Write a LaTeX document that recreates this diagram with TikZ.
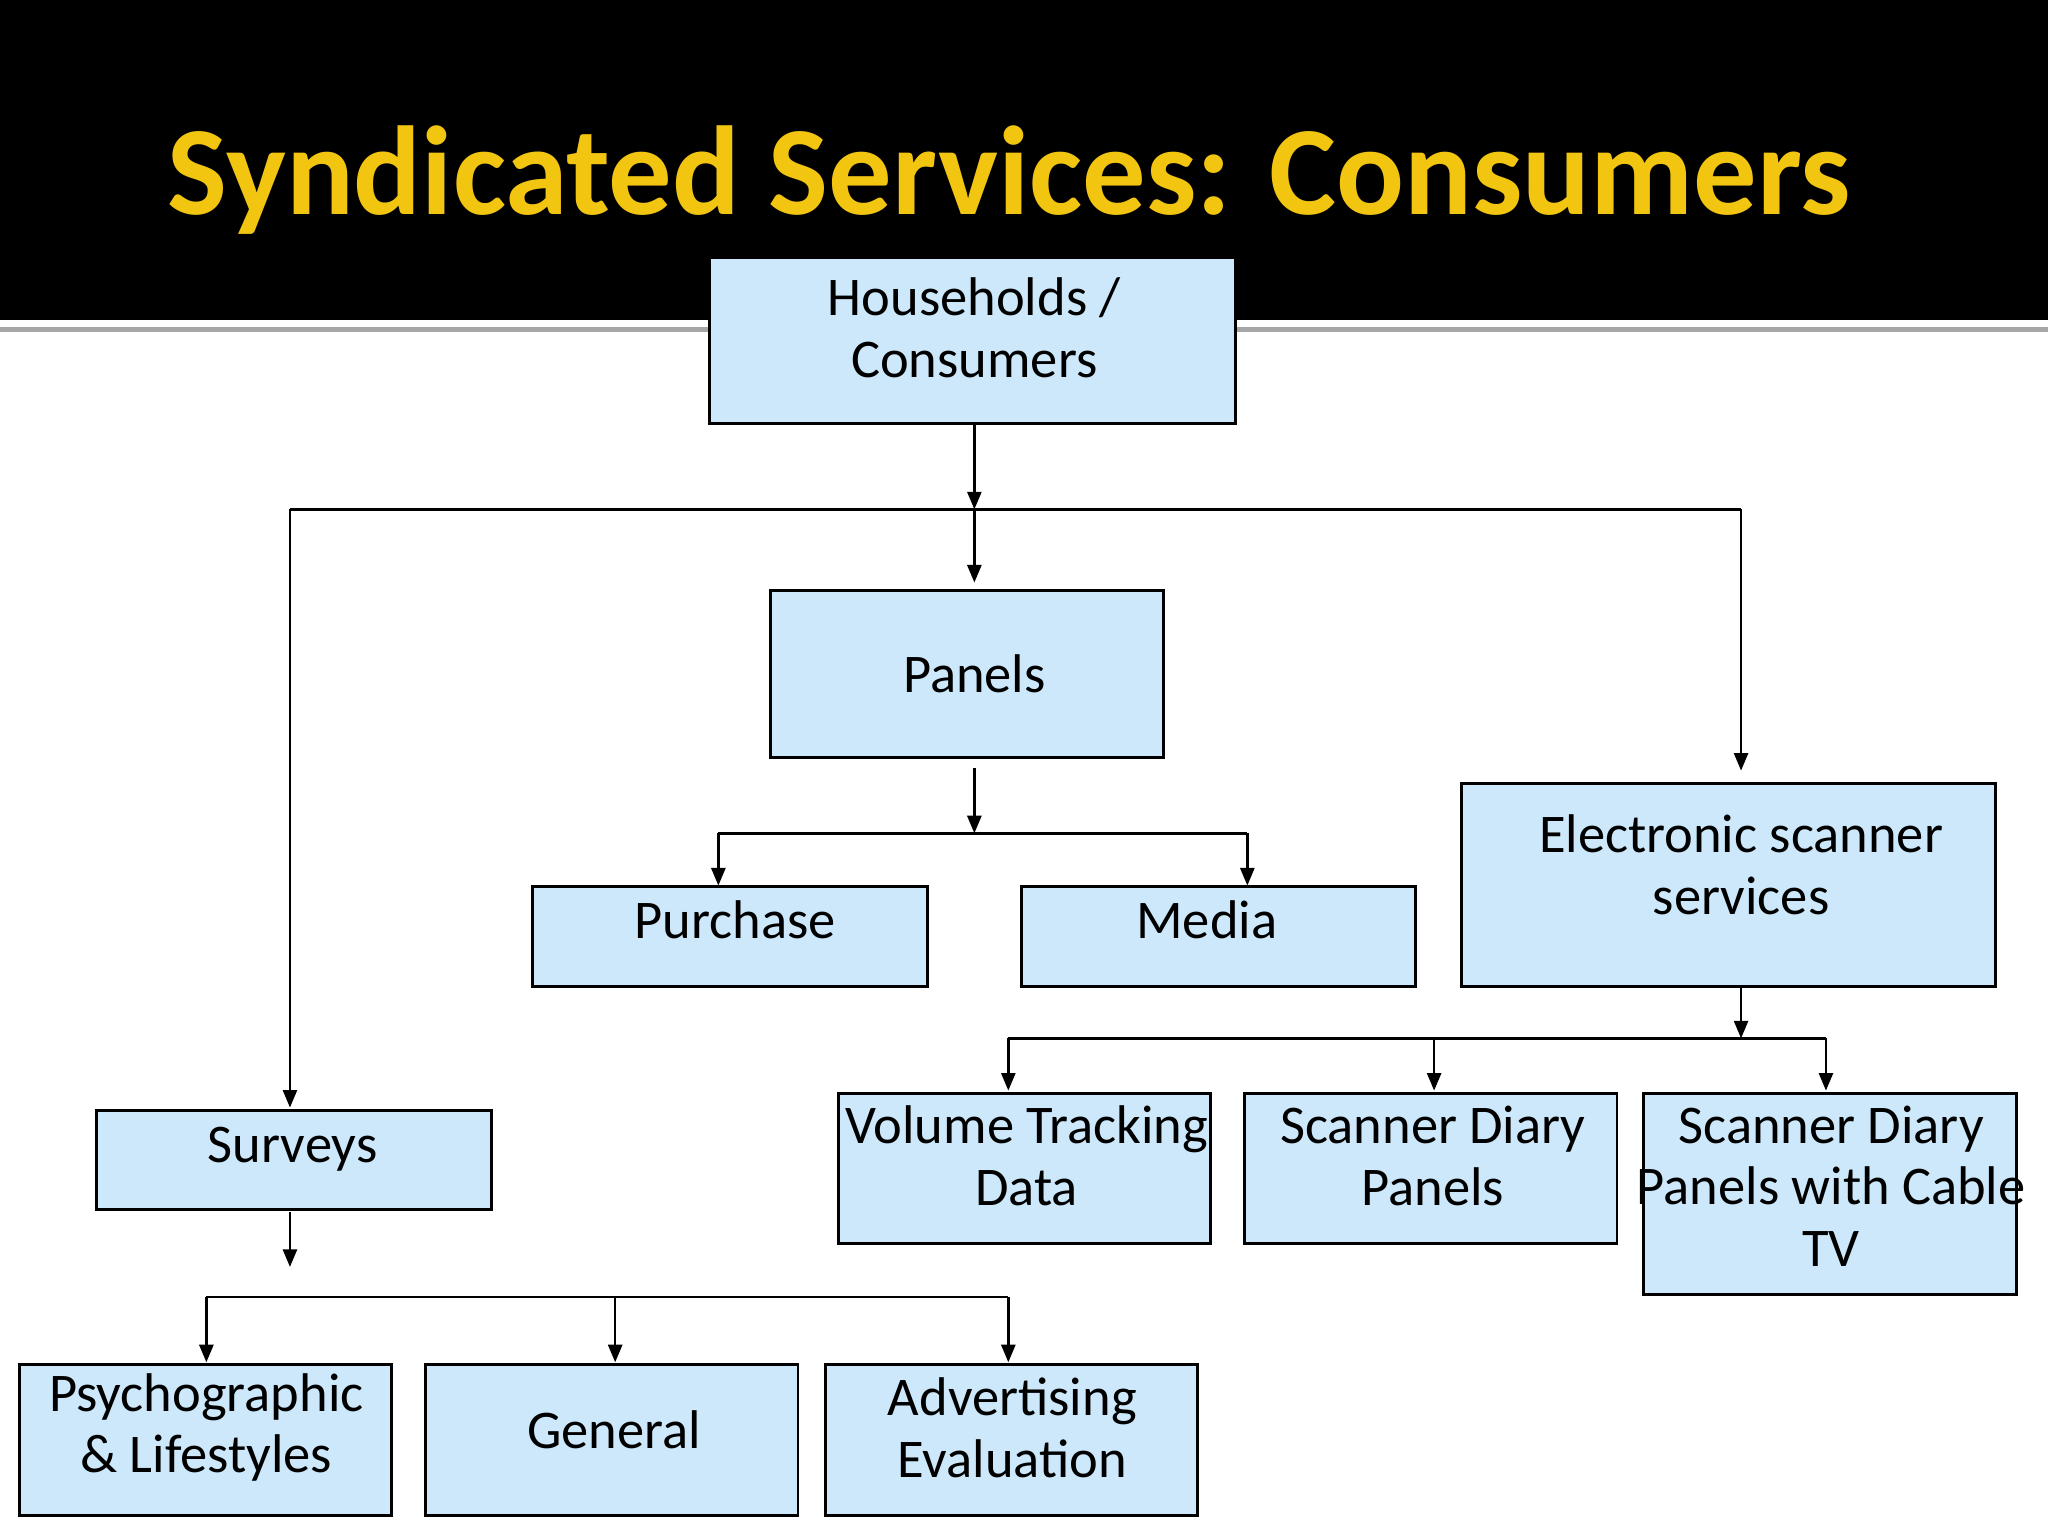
\documentclass[tikz,border=0pt]{standalone}
\usepackage{fontspec}
\setmainfont{Carlito}
\usetikzlibrary{arrows.meta}
\definecolor{boxfill}{HTML}{CCE8FA}
\definecolor{titley}{HTML}{F2C511}
\begin{document}
\begin{tikzpicture}[x=0.013061cm,y=-0.013061cm,
  box/.style={draw=black,line width=0.8pt,fill=boxfill},
  lbl/.style={font=\fontsize{15.5}{17.5}\selectfont,align=center,inner sep=0pt},
  arr/.style={-{Triangle[length=5pt,width=4pt]},line width=0.7pt},
  ln/.style={line width=0.7pt}]
\useasboundingbox (0,0) rectangle (1568,1176);
\fill[white] (0,0) rectangle (1568,1176);
\fill[black] (0,0) rectangle (1568,245);
\fill[gray!70] (0,250) rectangle (1568,254);
\node[text=titley,font=\fontsize{36}{40}\selectfont\bfseries,inner sep=0pt] (title) at (773,138) {Syndicated Services: Consumers};
% boxes
\path[box] (543,197) rectangle (946,324);
\node (hhB) at (746,324) [coordinate] {};
\node[lbl] at (746,251) {Households /\\Consumers};
\path[box] (590,452) rectangle (891,580);
\node[lbl] (panels) at (746,516) {Panels};
\path[box] (408,679) rectangle (710,755);
\node[lbl] (purchase) at (563,704) {Purchase};
\path[box] (782,679) rectangle (1084,755);
\node[lbl] (media) at (924,704) {Media};
\path[box] (1119,600) rectangle (1528,755);
\node[lbl] (elec) at (1333,662) {Electronic scanner\\services};
\path[box] (642,837) rectangle (927,952);
\node[lbl] (vol) at (786,885) {Volume Tracking\\Data};
\path[box] (953,837) rectangle (1238,952);
\node[lbl] (sdp) at (1097,885) {Scanner Diary\\Panels};
\path[box] (1258,837) rectangle (1544,991);
\node[lbl] (cable) at (1402,908) {Scanner Diary\\Panels with Cable\\TV};
\path[box] (74,850) rectangle (376,926);
\node[lbl] (surveys) at (224,880) {Surveys};
\path[box] (15,1045) rectangle (300,1160);
\node[lbl] (psy) at (158,1093) {Psychographic\\\& Lifestyles};
\path[box] (326,1045) rectangle (611,1160);
\node[lbl] (gen) at (470,1095) {General};
\path[box] (632,1045) rectangle (917,1160);
\node[lbl] (adv) at (775,1093) {Advertising\\Evaluation};
% junction coordinates
\coordinate (j1) at (746,390);
\coordinate (j1l) at (222,390);
\coordinate (j1r) at (1333,390);
\coordinate (pb) at (746,588);
\coordinate (j2) at (746,638);
\coordinate (j2l) at (550,638);
\coordinate (j2r) at (955,638);
\coordinate (eb) at (1333,755);
\coordinate (j3) at (1333,795);
\coordinate (j3l) at (772,795);
\coordinate (j3m) at (1098,795);
\coordinate (j3r) at (1398,795);
\coordinate (sb) at (222,928);
\coordinate (sa) at (222,970);
\coordinate (j4) at (158,993);
\coordinate (j4m) at (471,993);
\coordinate (j4r) at (772,993);
% connectors
\draw[arr] (hhB) -- (j1);
\draw[ln] (j1l) -- (j1r);
\draw[arr] (j1) -- (746,446);
\draw[arr] (j1l) -- (222,848);
\draw[arr] (j1r) -- (1333,590);
\draw[arr] (pb) -- (j2);
\draw[ln] (j2l) -- (j2r);
\draw[arr] (j2l) -- (550,678);
\draw[arr] (j2r) -- (955,678);
\draw[arr] (eb) -- (j3);
\draw[ln] (j3l) -- (j3r);
\draw[arr] (j3l) -- (772,835);
\draw[arr] (j3m) -- (1098,835);
\draw[arr] (j3r) -- (1398,835);
\draw[arr] (sb) -- (sa);
\draw[ln] (j4) -- (j4r);
\draw[arr] (j4) -- (158,1043);
\draw[arr] (j4m) -- (471,1043);
\draw[arr] (j4r) -- (772,1043);
\end{tikzpicture}
\end{document}
